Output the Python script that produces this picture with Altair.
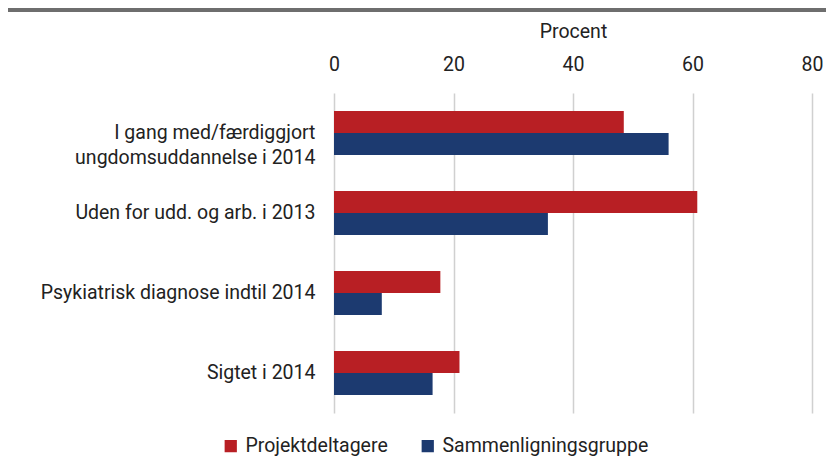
import altair as alt
import pandas as pd

categories = [
    "I gang med/færdiggjort\u00a0\u00a0\u00a0\u00a0|ungdomsuddannelse i 2014",
    "Uden for udd. og arb. i 2013",
    "Psykiatrisk diagnose indtil 2014",
    "Sigtet i 2014",
]
groups = ["Projektdeltagere", "Sammenligningsgruppe"]
projekt = [48.5, 60.8, 17.8, 21.0]
sammen = [56.0, 35.8, 8.0, 16.5]
ticks = [0, 20, 40, 60, 80]

rows = []
for c, p, s in zip(categories, projekt, sammen):
    rows.append({"kategori": c, "gruppe": groups[0], "procent": p})
    rows.append({"kategori": c, "gruppe": groups[1], "procent": s})
df = pd.DataFrame(rows)

FONT = "Roboto"
TXT = "#222222"
FS = 19.5

bars = alt.Chart(df).mark_bar().encode(
    x=alt.X("procent:Q",
            scale=alt.Scale(domain=[0, 80], nice=False),
            axis=alt.Axis(orient="top", values=ticks, title="Procent",
                          titleFont=FONT, titleFontSize=FS, titleFontWeight="normal",
                          titleColor=TXT, titlePadding=13,
                          labelFont=FONT, labelFontSize=FS, labelColor=TXT,
                          labelFlush=False,
                          labelPadding=19, domain=False, ticks=False,
                          grid=True, gridColor="#d0d0d0", gridWidth=1.5)),
    y=alt.Y("kategori:N", sort=categories,
            scale=alt.Scale(paddingInner=0.45, paddingOuter=0.225),
            axis=alt.Axis(title=None, domain=False, ticks=False,
                          labelExpr="split(datum.label, '|')",
                          labelFont=FONT, labelFontSize=FS, labelColor=TXT,
                          labelPadding=19, labelLimit=400, labelLineHeight=25)),
    yOffset=alt.YOffset("gruppe:N", sort=groups),
    color=alt.Color("gruppe:N", sort=groups,
                    scale=alt.Scale(domain=groups, range=["#B81F24", "#1C3A70"]),
                    legend=alt.Legend(title=None, orient="none", direction="horizontal",
                                      legendX=-113, legendY=343,
                                      symbolType="square", symbolSize=150,
                                      symbolStrokeWidth=0, symbolOpacity=1,
                                      labelFont=FONT, labelFontSize=FS, labelColor=TXT,
                                      labelLimit=400,
                                      columnPadding=30, labelOffset=5)),
)

topline = alt.Chart(df).mark_rule(color="#6e6e6e", strokeWidth=4).encode(
    x=alt.value(-330), x2=alt.value(520), y=alt.value(-83)
)

chart = alt.layer(topline, bars).properties(
    width=478, height=320,
    padding={"left": 326, "top": 85, "right": 14, "bottom": 43},
    autosize=alt.AutoSizeParams(type="none"),
).configure_view(stroke=None)

chart.save("out.html", embed_options={"renderer": "svg", "actions": False})
